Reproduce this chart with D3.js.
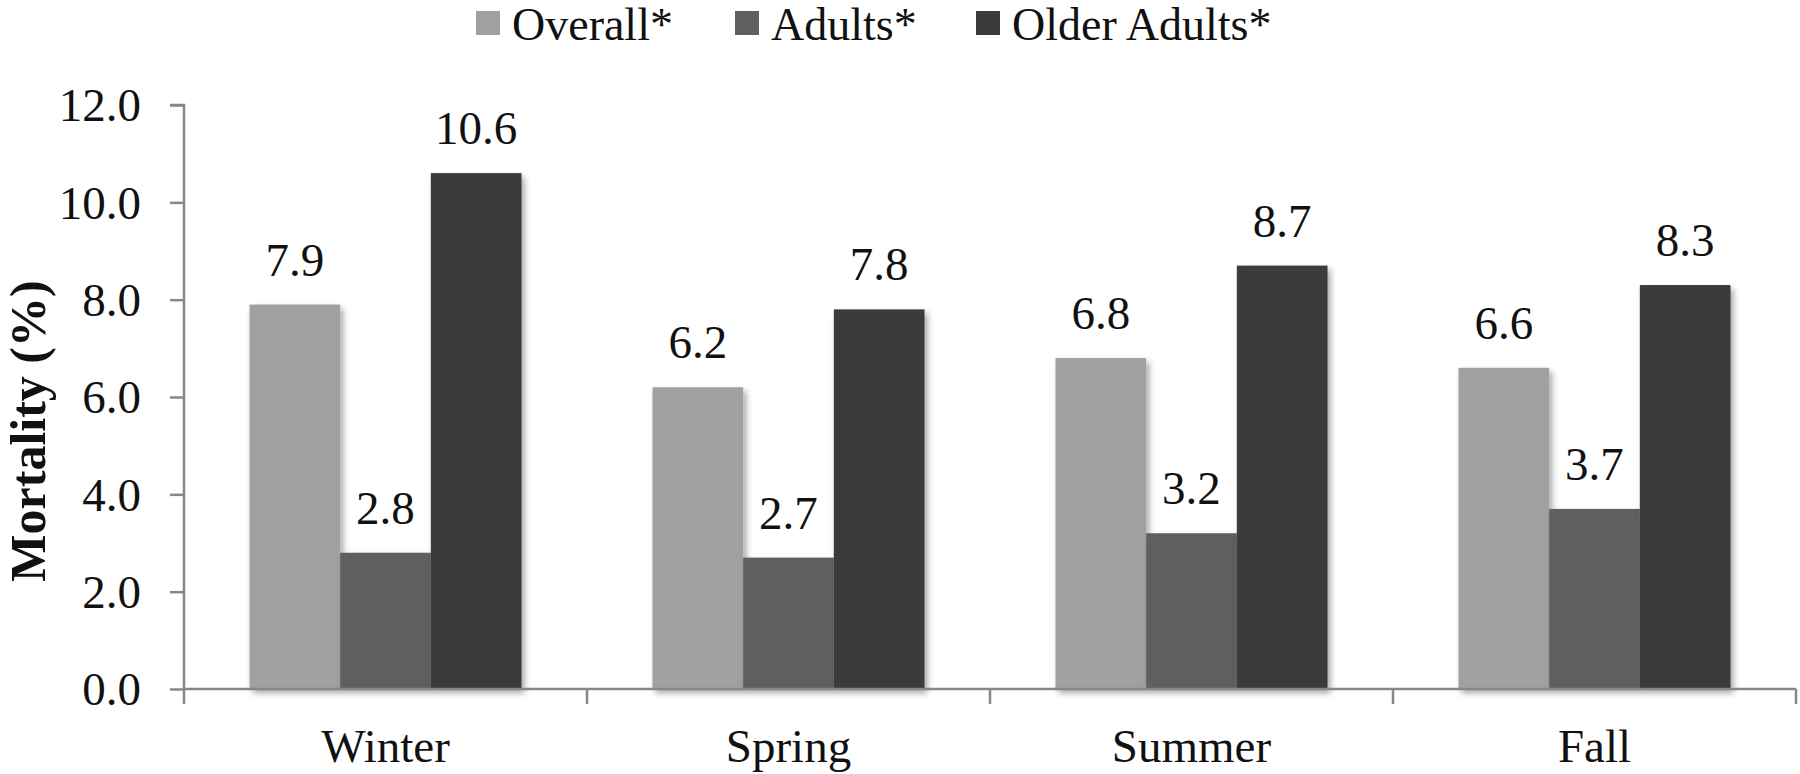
<!DOCTYPE html>
<html>
<head>
<meta charset="utf-8">
<script src="https://cdn.jsdelivr.net/npm/d3@7"></script>
<style>
  html, body { margin: 0; padding: 0; background: #fff; }
</style>
</head>
<body>
<svg id="chart" width="1800" height="774"></svg>
<script>
const categories = ["Winter", "Spring", "Summer", "Fall"];
const seriesNames = ["Overall*", "Adults*", "Older Adults*"];
const overall = [7.9, 6.2, 6.8, 6.6];
const adults = [2.8, 2.7, 3.2, 3.7];
const olderAdults = [10.6, 7.8, 8.7, 8.3];
const yTicks = [0, 2, 4, 6, 8, 10, 12];
const yLabel = "Mortality (%)";

const seriesValues = [overall, adults, olderAdults];
const colors = ["#a0a0a0", "#5f5f5f", "#3a3a3a"];
const FONT = "'Liberation Serif', 'Times New Roman', serif";

const svg = d3.select("#chart");
const plotLeft = 184, plotRight = 1796, plotTop = 105, plotBottom = 689;
const axisColor = "#878787";

const defs = svg.append("defs");
const f = defs.append("filter").attr("id", "shadow")
  .attr("x", "-10%").attr("y", "-10%").attr("width", "130%").attr("height", "130%");
f.append("feDropShadow").attr("dx", 3).attr("dy", 4).attr("stdDeviation", 3)
  .attr("flood-color", "#000").attr("flood-opacity", 0.35);

const x0 = d3.scaleBand().domain(categories).range([plotLeft, plotRight])
  .paddingInner(0.325).paddingOuter(0.1625);
const x1 = d3.scaleBand().domain(seriesNames).range([0, x0.bandwidth()]);
const y = d3.scaleLinear().domain([0, 12]).range([plotBottom, plotTop]);

// bars
const groups = svg.append("g").selectAll("g").data(categories).join("g")
  .attr("transform", d => `translate(${x0(d)},0)`);
groups.each(function(cat, ci) {
  const g = d3.select(this);
  seriesNames.forEach((s, si) => {
    const v = seriesValues[si][ci];
    g.append("rect")
      .attr("x", x1(s)).attr("width", x1.bandwidth())
      .attr("y", y(v)).attr("height", y(0) - y(v))
      .attr("fill", colors[si]).attr("filter", "url(#shadow)");
  });
  seriesNames.forEach((s, si) => {
    const v = seriesValues[si][ci];
    g.append("text")
      .attr("x", x1(s) + x1.bandwidth() / 2).attr("y", y(v) - 29)
      .attr("text-anchor", "middle").attr("font-size", 47)
      .attr("font-family", FONT).attr("fill", "#111")
      .text(v.toFixed(1));
  });
});

// y axis
const yAxis = d3.axisLeft(y).tickValues(yTicks).tickSize(14).tickPadding(29)
  .tickFormat(d3.format(".1f"));
const gy = svg.append("g").attr("transform", `translate(${plotLeft},0)`).call(yAxis);
gy.attr("font-family", FONT);
gy.select(".domain").attr("stroke", axisColor).attr("stroke-width", 2.5)
  .attr("d", `M-14,${plotTop}H0V${plotBottom}`);
gy.selectAll(".tick line").attr("stroke", axisColor).attr("stroke-width", 2.5);
gy.selectAll(".tick text").attr("font-size", 47).attr("font-family", FONT)
  .attr("fill", "#111").attr("dy", "0.34em");

// x axis
const xAxis = d3.axisBottom(x0).tickSize(0).tickPadding(0);
const gx = svg.append("g").attr("transform", `translate(0,${plotBottom})`).call(xAxis);
gx.attr("font-family", FONT);
gx.select(".domain").attr("stroke", axisColor).attr("stroke-width", 2.5)
  .attr("d", `M${plotLeft},0H${plotRight}`);
gx.selectAll(".tick text").attr("font-size", 47).attr("font-family", FONT)
  .attr("fill", "#111").attr("y", 73).attr("dy", 0);
// category boundary ticks
const step = x0.step();
const boundaries = d3.range(categories.length + 1).map(i => plotLeft + i * step);
gx.selectAll(".bound").data(boundaries).join("line").attr("class", "bound")
  .attr("x1", d => d).attr("x2", d => d).attr("y1", 0).attr("y2", 15)
  .attr("stroke", axisColor).attr("stroke-width", 2.5);

// y label
svg.append("text")
  .attr("transform", `translate(45,431) rotate(-90)`)
  .attr("text-anchor", "middle").attr("font-size", 50).attr("font-weight", "bold")
  .attr("font-family", FONT).attr("fill", "#111")
  .text(yLabel);

// legend
const legendX = [476, 735, 976];
const lg = svg.append("g").selectAll("g").data(seriesNames).join("g")
  .attr("transform", (d, i) => `translate(${legendX[i]},0)`);
lg.append("rect").attr("x", 0).attr("y", 11).attr("width", 24).attr("height", 24)
  .attr("fill", (d, i) => colors[i]);
lg.append("text").attr("x", 36).attr("y", 40).attr("font-size", 46)
  .attr("font-family", FONT).attr("fill", "#111").text(d => d);
</script>
</body>
</html>
